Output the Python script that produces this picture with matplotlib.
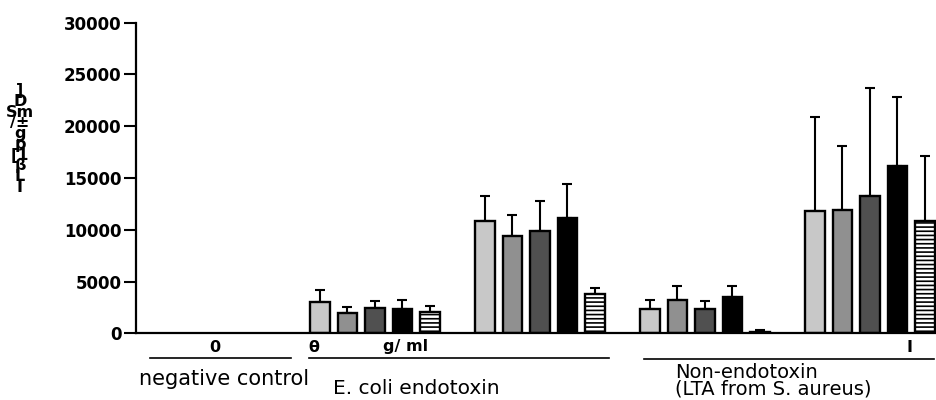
import matplotlib
matplotlib.use("Agg")
import matplotlib.pyplot as plt
import numpy as np
from matplotlib.lines import Line2D

# data (5 bar series over 5 groups, group 1 = zero)
groups = ['negative control', 'E. coli low', 'E. coli high', 'LTA low', 'LTA high']
s1 = [0, 3000, 10800, 2350, 11850]
s2 = [0, 1950, 9400, 3250, 11900]
s3 = [0, 2480, 9850, 2320, 13270]
s4 = [0, 2330, 11170, 3480, 16170]
s5 = [0, 2100, 3780, 170, 10850]
e1 = [0, 1180, 2420, 900, 9060]
e2 = [0, 600, 2030, 1320, 6230]
e3 = [0, 680, 2960, 830, 10430]
e4 = [0, 860, 3250, 1090, 6700]
e5 = [0, 520, 570, 180, 6310]
yticks = [0, 5000, 10000, 15000, 20000, 25000, 30000]
ylab = "]\nD\nSm\n/±\ng\np\n[1\nβ\nL\nI"

series = [s1, s2, s3, s4, s5]
errs = [e1, e2, e3, e4, e5]
colors = ['#c8c8c8', '#909090', '#505050', '#000000', '#ffffff']
hatches = [None, None, None, None, '----']

plt.rcParams['font.family'] = ['DejaVu Sans']
plt.rcParams['hatch.linewidth'] = 1.2

W, H = 937, 400
fig = plt.figure(figsize=(W / 100, H / 100), dpi=100)
ax = fig.add_axes([136 / W, 1 - 333.3 / H, 1 - 136 / W, 310.6 / H])

gx = np.arange(len(groups)) * 6
for i in range(5):
    x = gx + i
    v = np.array(series[i])
    m = v > 0   # zero bars are not drawn in the original
    ax.bar(x[m], v[m], width=0.71, color=colors[i], edgecolor='black',
           linewidth=1.7, hatch=hatches[i], zorder=2)
    ax.errorbar(x[m], v[m], yerr=[np.zeros(m.sum()), np.array(errs[i])[m]],
                fmt='none', ecolor='black', elinewidth=1.5, capsize=3.6,
                capthick=1.5, zorder=1)

ax.set_xlim(-0.69, 28.44)
ax.set_ylim(0, 30000)
ax.set_yticks(yticks)
ax.set_yticklabels([str(t) for t in yticks], fontweight='bold', fontsize=12)
ax.tick_params(axis='y', length=8.6, width=1.5, pad=2)
ax.set_xticks([])
for s in ['top', 'right']:
    ax.spines[s].set_visible(False)
for s in ['left', 'bottom']:
    ax.spines[s].set_linewidth(1.6)


def px(x, y):
    return x / W, 1 - y / H


# garbled y label, glyphs stacked one above the other
fig.text(*px(20, 139), ylab, fontsize=11.5, fontweight='bold', ha='center',
         va='center', linespacing=0.64)

# bold row under the axis
for t, xx in [('0', 215), ('θ', 314), ('g/ ml', 406), ('I', 910)]:
    fig.text(*px(xx, 347), t, fontsize=11.5, fontweight='bold', ha='center', va='center')

# bracket lines
for x0, x1, yy in [(150, 291, 357.5), (309, 609, 357.5), (644, 934, 358.5)]:
    fig.add_artist(Line2D([x0 / W, x1 / W], [1 - yy / H, 1 - yy / H],
                          color='black', linewidth=1.2))

fig.text(*px(139, 379), 'negative control', fontsize=15, ha='left', va='center')
fig.text(*px(333, 389), 'E. coli endotoxin', fontsize=14.5, ha='left', va='center')
fig.text(*px(675, 381), 'Non-endotoxin\n(LTA from S. aureus)', fontsize=14,
         ha='left', va='center', linespacing=0.8)

fig.savefig('out.png', dpi=100)
